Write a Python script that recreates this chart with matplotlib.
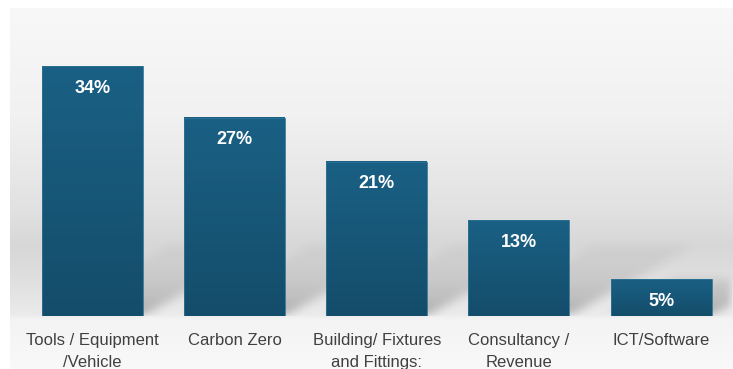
import numpy as np
import matplotlib.pyplot as plt
from matplotlib.colors import LinearSegmentedColormap

# --> Data
categories = ['Tools / Equipment\n/Vehicle', 'Carbon Zero', 'Building/ Fixtures\nand Fittings:',
              'Consultancy /\nRevenue', 'ICT/Software']
shares = [34, 27, 21, 13, 5]
labels = ['34%', '27%', '21%', '13%', '5%']

W, H = 733, 369
fig = plt.figure(figsize=(W / 100, H / 100), dpi=100)
fig.patch.set_facecolor('white')

# --> Background panel with vertical gray gradient
bg = fig.add_axes([10 / W, 0, 1 - 10 / W, (H - 8) / H], zorder=0)
bg_cmap = LinearSegmentedColormap.from_list('bg', [
    (0.00, '#f8f8f8'), (0.30, '#f1f1f1'), (0.55, '#e2e2e2'), (0.66, '#d7d7d7'),
    (0.77, '#e1e1e1'), (0.85, '#ebebeb'), (0.862, '#f3f3f3'), (1.00, '#f9f9f9')])
bg.imshow(np.linspace(0, 1, 256).reshape(-1, 1), aspect='auto', cmap=bg_cmap,
          extent=[0, 1, 0, 1], origin='upper')
bg.axis('off')

# --> Main axes
left, right = 21.4 / W, 732.2 / W
bottom, top = (H - 316) / H, (H - 8) / H
ax = fig.add_axes([left, bottom, right - left, top - bottom], zorder=1)
ax.patch.set_alpha(0)
x = np.arange(len(shares))
ymax = 41.9
ax.set_xlim(-0.5, len(shares) - 0.5)
ax.set_ylim(0, ymax)

px_x = (right - left) * W / len(shares)   # pixels per x unit
px_y = (top - bottom) * H / ymax          # pixels per y unit
bar_w = 0.71

# --> Soft shadows cast back-right from each bar
nx, ny = int((right - left) * W), int((top - bottom) * H)
gx = np.linspace(-0.5, len(shares) - 0.5, nx)
gy = np.linspace(0, ymax, ny)
XX, YY = np.meshgrid(gx, gy)
shadow = np.zeros_like(XX)
for xi, v in zip(x, shares):
    ypx = YY * px_y
    shift = ypx * 1.8 / px_x
    hs = min(v * px_y, 70)
    inside = (XX >= xi - bar_w / 2 + shift) & (XX <= xi + bar_w / 2 + shift) & (ypx <= hs)
    shadow = np.maximum(shadow, inside * np.exp(-ypx / 35))
k = np.ones(9) / 9
for _ in range(3):
    shadow = np.apply_along_axis(lambda r: np.convolve(r, k, mode='same'), 1, shadow)
    shadow = np.apply_along_axis(lambda c: np.convolve(c, k, mode='same'), 0, shadow)
rgba = np.zeros(shadow.shape + (4,))
rgba[..., 3] = shadow * 0.28
ax.imshow(rgba, extent=[-0.5, len(shares) - 0.5, 0, ymax], origin='lower',
          aspect='auto', zorder=1, interpolation='bilinear')

# --> Bars with a slight vertical gradient
bars = ax.bar(x, shares, width=bar_w, color='#185c7d', edgecolor='#2d7394',
              linewidth=0.6, zorder=2)
bar_cmap = LinearSegmentedColormap.from_list('bar', ['#144d6b', '#1a6084'])
for b in bars:
    x0, w, h = b.get_x(), b.get_width(), b.get_height()
    ax.imshow(np.linspace(0, 1, 64).reshape(-1, 1), cmap=bar_cmap, aspect='auto',
              extent=[x0, x0 + w, 0, h], origin='lower', zorder=3)
    b.set_facecolor('none')
    b.set_zorder(4)

for b, lab in zip(bars, labels):
    ax.annotate(lab, (b.get_x() + b.get_width() / 2, b.get_height()), xytext=(0, -16),
                textcoords='offset points', ha='center', va='center', color='white',
                fontsize=13, fontweight='bold', family='Liberation Sans', zorder=5)

ax.set_xticks(x)
ax.set_xticklabels(categories, fontsize=12, color='#404040', family='Liberation Sans',
                   linespacing=1.6, va='top')
ax.tick_params(axis='x', length=0, pad=12)
ax.set_yticks([])
for s in ax.spines.values():
    s.set_visible(False)
ax.set_xlim(-0.5, len(shares) - 0.5)
ax.set_ylim(0, ymax)

fig.savefig('out.png', dpi=100)
